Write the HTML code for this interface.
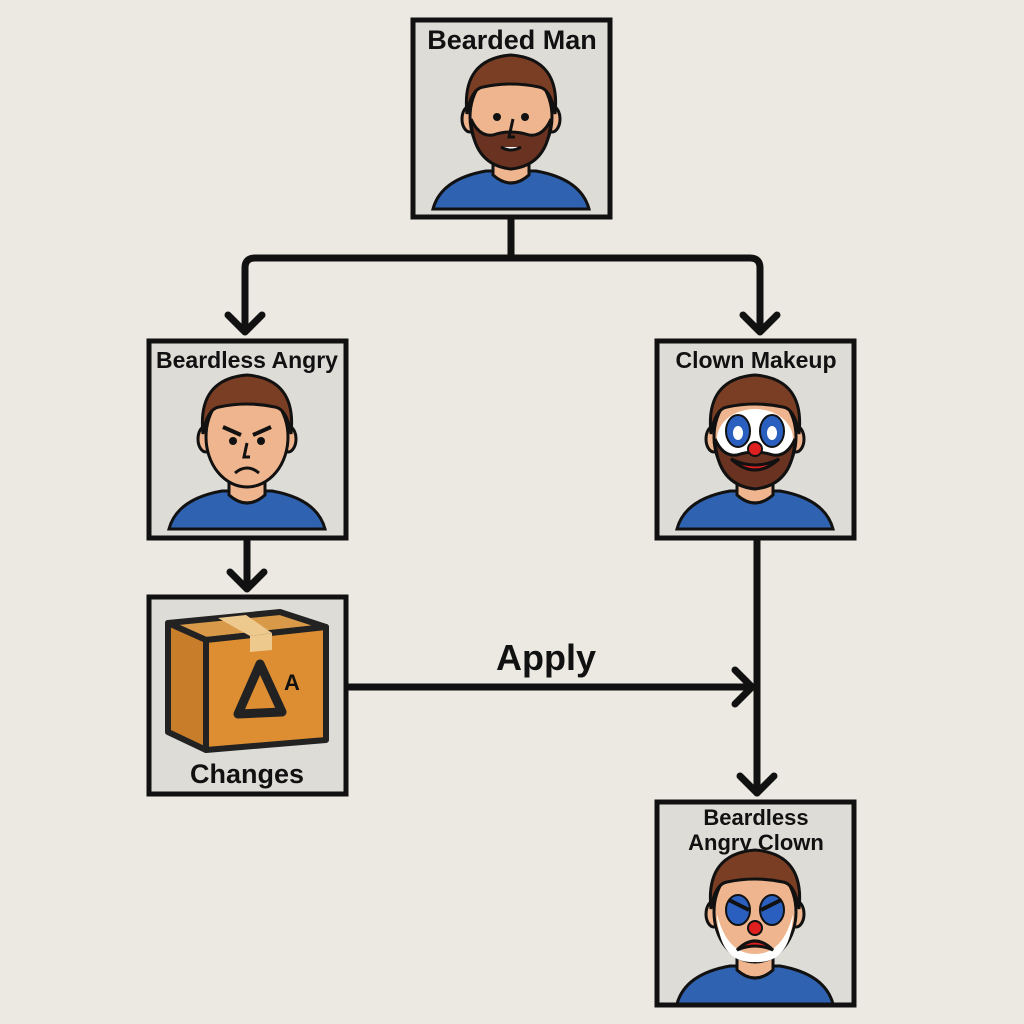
<!DOCTYPE html>
<html><head><meta charset="utf-8"><style>
html,body{margin:0;padding:0;background:#ece9e3;}
svg{display:block}
text{font-family:"Liberation Sans",sans-serif;font-weight:bold;fill:#111;text-anchor:middle}
</style></head><body>
<svg width="1024" height="1024" viewBox="0 0 1024 1024" xmlns="http://www.w3.org/2000/svg">
<defs>
<g id="body">
  <path d="M22,190 Q30,160 75,152 L125,152 Q170,160 178,190 Z" fill="#2f62b0" stroke="#111" stroke-width="3"/>
  <path d="M82,130 L82,156 Q100,172 118,156 L118,130 Z" fill="#efb58e" stroke="#111" stroke-width="3"/>
  <ellipse cx="59" cy="100" rx="8" ry="13" fill="#efb58e" stroke="#111" stroke-width="3"/>
  <ellipse cx="141" cy="100" rx="8" ry="13" fill="#efb58e" stroke="#111" stroke-width="3"/>
  <ellipse cx="100" cy="98" rx="41" ry="50" fill="#efb58e" stroke="#111" stroke-width="3"/>
  <path d="M56,95 Q50,40 100,36 Q150,40 144,95 Q140,70 128,68 Q100,62 72,68 Q60,70 56,95 Z" fill="#7a3e24" stroke="#111" stroke-width="3"/>
</g>
<g id="beard">
  <path d="M60,100 Q62,146 100,150 Q138,146 140,100 Q132,118 118,116 Q100,110 82,116 Q68,118 60,100 Z" fill="#6a3220" stroke="#111" stroke-width="3"/>
</g>
</defs>
<rect width="1024" height="1024" fill="#ece9e3"/>

<g stroke="#111" stroke-width="7" fill="none" stroke-linecap="round" stroke-linejoin="round">
  <path d="M511,218 L511,258"/>
  <path d="M245,330 L245,268 Q245,258 255,258 L750,258 Q760,258 760,268 L760,330"/>
  <path d="M228,315 L245,332 L262,315"/>
  <path d="M743,315 L760,332 L777,315"/>
  <path d="M247,540 L247,588"/>
  <path d="M230,572 L247,589 L264,572"/>
  <path d="M757,540 L757,793"/>
  <path d="M740,776 L757,793 L774,776"/>
  <path d="M347,687 L752,687"/>
  <path d="M735,670 L752,687 L735,704"/>
</g>
<text x="546" y="670" font-size="36">Apply</text>

<rect x="413" y="20" width="197" height="197" fill="#dedcd7" stroke="#111" stroke-width="5"/>
<text x="512" y="49" font-size="27">Bearded Man</text>
<g transform="translate(411,19)">
  <use href="#body"/><use href="#beard"/>
  <circle cx="86" cy="98" r="4" fill="#111"/><circle cx="114" cy="98" r="4" fill="#111"/>
  <path d="M102,100 L98,118 L104,118" stroke="#111" stroke-width="3" fill="none"/>
  <path d="M90,128 Q100,134 110,128" stroke="#111" stroke-width="3" fill="#fff"/>
</g>

<rect x="149" y="341" width="197" height="197" fill="#dedcd7" stroke="#111" stroke-width="5"/>
<text x="247" y="368" font-size="23">Beardless Angry</text>
<g transform="translate(147,339)">
  <use href="#body"/>
  <circle cx="86" cy="102" r="4" fill="#111"/><circle cx="114" cy="102" r="4" fill="#111"/>
  <path d="M76,88 L94,96 M124,88 L106,96" stroke="#111" stroke-width="4"/>
  <path d="M100,104 L97,118 L103,118" stroke="#111" stroke-width="3" fill="none"/>
  <path d="M88,134 Q100,124 112,134" stroke="#111" stroke-width="3" fill="none"/>
</g>

<rect x="657" y="341" width="197" height="197" fill="#dedcd7" stroke="#111" stroke-width="5"/>
<text x="756" y="368" font-size="23">Clown Makeup</text>
<g transform="translate(655,339)">
  <use href="#body"/>
  <ellipse cx="100" cy="100" rx="38" ry="30" fill="#fff"/>
  <use href="#beard"/>
  <ellipse cx="83" cy="92" rx="12" ry="16" fill="#2a5fc0" stroke="#111" stroke-width="2"/>
  <ellipse cx="117" cy="92" rx="12" ry="16" fill="#2a5fc0" stroke="#111" stroke-width="2"/>
  <ellipse cx="83" cy="94" rx="5" ry="7" fill="#fff"/><ellipse cx="117" cy="94" rx="5" ry="7" fill="#fff"/>
  <circle cx="100" cy="110" r="7" fill="#e02020" stroke="#111" stroke-width="2"/>
  <path d="M76,120 Q100,142 124,120 Q100,132 76,120 Z" fill="#e02020" stroke="#111" stroke-width="3"/>
</g>

<rect x="149" y="597" width="197" height="197" fill="#dedcd7" stroke="#111" stroke-width="5"/>
<g stroke="#222" stroke-width="6" stroke-linejoin="round">
  <path d="M168,623 L280,612 L326,627 L206,640 Z" fill="#d89a48"/>
  <path d="M168,623 L206,640 L206,750 L168,732 Z" fill="#c77d2a"/>
  <path d="M206,640 L326,627 L326,740 L206,750 Z" fill="#dd8e32"/>
</g>
<path d="M218,618 L246,615 L272,633 L250,636 Z" fill="#edc98e"/>
<path d="M250,636 L272,633 L272,650 L250,652 Z" fill="#edc98e"/>
<path d="M260,664 L282,712 L238,714 Z" fill="none" stroke="#222" stroke-width="9" stroke-linejoin="round"/>
<text x="292" y="690" font-size="22" fill="#222">A</text>
<text x="247" y="783" font-size="27">Changes</text>

<rect x="657" y="802" width="197" height="203" fill="#dedcd7" stroke="#111" stroke-width="5"/>
<text x="756" y="825" font-size="22">Beardless</text>
<text x="756" y="850" font-size="22">Angry Clown</text>
<g transform="translate(655,814)">
  <use href="#body"/>
  <path d="M62,100 Q64,150 100,148 Q136,150 138,100 Q128,140 100,140 Q72,140 62,100 Z" fill="#fff"/>
  <ellipse cx="83" cy="96" rx="12" ry="15" fill="#2a5fc0" stroke="#111" stroke-width="2"/>
  <ellipse cx="117" cy="96" rx="12" ry="15" fill="#2a5fc0" stroke="#111" stroke-width="2"/>
  <path d="M74,86 L94,96 M126,86 L106,96" stroke="#111" stroke-width="4"/>
  <circle cx="100" cy="114" r="7" fill="#e02020" stroke="#111" stroke-width="2"/>
  <path d="M82,136 Q100,118 118,136 Q100,128 82,136 Z" fill="#e02020" stroke="#111" stroke-width="3"/>
</g>
</svg>
</body></html>
